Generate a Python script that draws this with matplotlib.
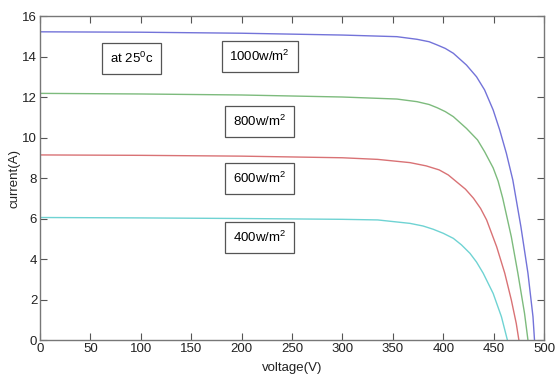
import matplotlib
matplotlib.use("Agg")
import matplotlib.pyplot as plt

plt.rcParams['font.family'] = ['Liberation Sans', 'DejaVu Sans']
plt.rcParams['mathtext.fontset'] = 'custom'
plt.rcParams['mathtext.rm'] = 'Liberation Sans'
plt.rcParams['mathtext.default'] = 'rm'

# Read-off data points (voltage V, current A)
v_1000 = [0, 100, 200, 300, 354, 374, 386, 394, 402, 410, 423, 433, 441, 449.5, 456, 462.6, 469, 477, 484, 489, 490.5]
i_1000 = [15.22, 15.2, 15.15, 15.06, 14.98, 14.85, 14.73, 14.57, 14.4, 14.16, 13.58, 13.0, 12.35, 11.36, 10.37, 9.22, 7.9, 5.6, 3.3, 1.15, 0.0]

v_800 = [0, 100, 200, 300, 354, 374, 386, 394, 402, 410, 423, 434, 441, 449.5, 454.4, 459, 467.5, 474, 480.6, 484]
i_800 = [12.18, 12.15, 12.1, 12.0, 11.9, 11.77, 11.63, 11.47, 11.28, 11.03, 10.45, 9.88, 9.3, 8.5, 7.85, 7.0, 5.1, 3.3, 1.32, 0.0]

v_600 = [0, 100, 200, 300, 335, 367, 383, 396, 405, 413, 422, 430, 437, 443, 453, 461, 467.5, 472.4, 475]
i_600 = [9.14, 9.12, 9.08, 9.0, 8.92, 8.76, 8.6, 8.4, 8.15, 7.82, 7.45, 7.0, 6.5, 5.93, 4.6, 3.3, 1.98, 0.82, 0.0]

v_400 = [0, 100, 200, 300, 335, 367, 380, 390, 400, 410, 418, 426.5, 433, 439.6, 449.5, 457.7, 463.6]
i_400 = [6.05, 6.03, 6.0, 5.96, 5.93, 5.76, 5.63, 5.47, 5.27, 5.02, 4.7, 4.28, 3.85, 3.3, 2.3, 1.15, 0.0]

labels = ["1000w/m$^2$", "800w/m$^2$", "600w/m$^2$", "400w/m$^2$"]
colors = ["#7373d9", "#7dbb7d", "#d97275", "#6fd3d3"]

fig = plt.figure(figsize=(5.57, 3.76), dpi=100)
ax = fig.add_axes([0.0718, 0.0957, 0.905, 0.8617])

for v, i, c in zip([v_1000, v_800, v_600, v_400], [i_1000, i_800, i_600, i_400], colors):
    ax.plot(v, i, color=c, lw=1.0)

ax.set_xlim(0, 500)
ax.set_ylim(0, 16)
ax.set_xticks(range(0, 501, 50))
ax.set_yticks(range(0, 17, 2))
ax.tick_params(direction='in', top=True, right=True, length=5, width=0.8,
               colors='#555555', labelcolor='#222222', labelsize=9.5, pad=2)
for s in ax.spines.values():
    s.set_color('#777777')
    s.set_linewidth(1.0)

ax.set_xlabel("voltage(V)", fontsize=9.5, labelpad=5, color='#222222')
ax.set_ylabel("current(A)", fontsize=9.5, labelpad=1, color='#222222')

box = dict(boxstyle='square,pad=0.6', fc='white', ec='#555555', lw=0.9)
ax.text(91, 13.9, "at 25$^0$c", fontsize=9.5, ha='center', va='center', bbox=box)
label_pos = [(218, 14.0), (218, 10.8), (218, 7.97), (218, 5.06)]
for (x, y), t in zip(label_pos, labels):
    ax.text(x, y, t, fontsize=9.5, ha='center', va='center', bbox=box)

fig.savefig("out.png", dpi=100)
